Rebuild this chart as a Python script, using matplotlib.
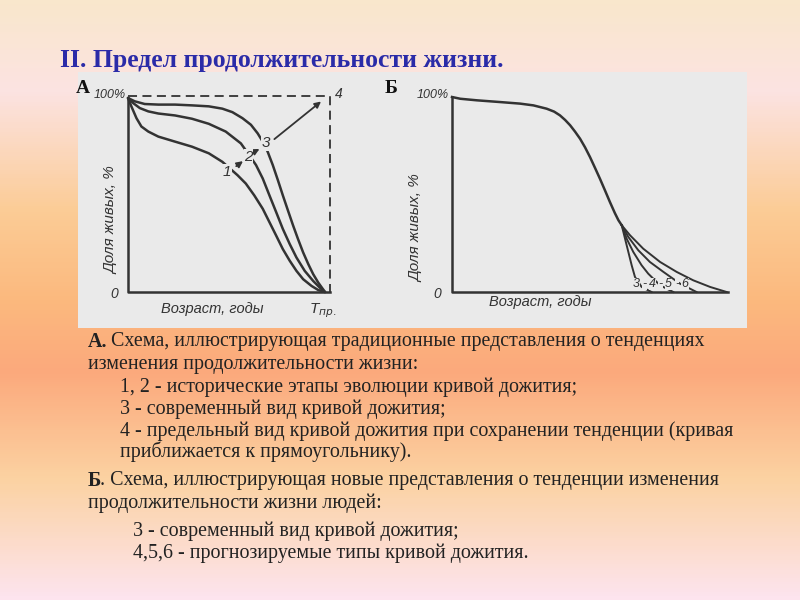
import numpy as np
import matplotlib.pyplot as plt
from matplotlib.colors import LinearSegmentedColormap
from matplotlib.patches import Rectangle

# panel A: curves 1, 2, 3 (x: share of T_pr, y: share alive)
a1_x = [0, 0.017, 0.043, 0.068, 0.103, 0.154, 0.239, 0.325, 0.410, 0.479, 0.556, 0.598, 0.641,
        0.684, 0.718, 0.752, 0.786, 0.821, 0.855, 0.889, 0.932, 0.966, 1.0]
a1_y = [1, 0.957, 0.896, 0.853, 0.827, 0.801, 0.775, 0.749, 0.715, 0.671, 0.602, 0.559, 0.498,
        0.429, 0.360, 0.291, 0.221, 0.161, 0.109, 0.066, 0.031, 0.010, 0]
a2_x = [0, 0.026, 0.060, 0.103, 0.154, 0.239, 0.325, 0.410, 0.496, 0.573, 0.615, 0.650, 0.684,
        0.718, 0.752, 0.786, 0.821, 0.855, 0.897, 0.940, 0.974, 1.0]
a2_y = [1, 0.974, 0.948, 0.931, 0.920, 0.910, 0.893, 0.867, 0.827, 0.766, 0.706, 0.654, 0.585,
        0.498, 0.412, 0.325, 0.247, 0.178, 0.109, 0.057, 0.022, 0]
a3_x = [0, 0.034, 0.085, 0.154, 0.239, 0.325, 0.410, 0.479, 0.530, 0.581, 0.624, 0.658, 0.684,
        0.709, 0.735, 0.761, 0.786, 0.812, 0.838, 0.863, 0.889, 0.915, 0.940, 0.966, 1.0]
a3_y = [1, 0.983, 0.969, 0.966, 0.966, 0.962, 0.957, 0.945, 0.927, 0.896, 0.862, 0.818, 0.775,
        0.723, 0.654, 0.576, 0.498, 0.420, 0.343, 0.273, 0.204, 0.144, 0.092, 0.048, 0]
a_labels = ['1', '2', '3']
a_label_x = [0.504, 0.612, 0.701]
a_label_y = [0.619, 0.697, 0.766]

# panel B: common part and tails 3..6
b_x = [0, 0.030, 0.090, 0.175, 0.247, 0.295, 0.343, 0.370, 0.391, 0.410, 0.428, 0.446, 0.464,
       0.482, 0.500, 0.518, 0.536, 0.554, 0.572, 0.590, 0.603, 0.615]
b_y = [1, 0.991, 0.983, 0.974, 0.966, 0.957, 0.940, 0.925, 0.906, 0.882, 0.855, 0.822, 0.786,
       0.742, 0.692, 0.637, 0.581, 0.522, 0.462, 0.405, 0.368, 0.342]
b3_x = [0.627, 0.639, 0.651, 0.663, 0.687, 0.723]
b3_y = [0.273, 0.205, 0.137, 0.077, 0.026, 0.0]
b4_x = [0.633, 0.657, 0.687, 0.711, 0.754, 0.802]
b4_y = [0.273, 0.205, 0.137, 0.094, 0.034, 0.0]
b5_x = [0.639, 0.675, 0.717, 0.766, 0.826, 0.886]
b5_y = [0.282, 0.214, 0.154, 0.103, 0.043, 0.0]
b6_x = [0.645, 0.693, 0.754, 0.814, 0.874, 0.935, 0.995]
b6_y = [0.291, 0.222, 0.154, 0.103, 0.060, 0.026, 0.0]
b_labels = ['3', '-', '4', '-', '5', '-', '6']
b_label_x = [0.667, 0.697, 0.726, 0.756, 0.785, 0.815, 0.844]

W, H = 800, 600
fig = plt.figure(figsize=(8, 6), dpi=100)

# gradient background
bg = fig.add_axes([0, 0, 1, 1])
cmap = LinearSegmentedColormap.from_list('bg', [
    (0.0, '#f9e7cc'), (0.15, '#fce3e2'), (0.35, '#fbcc96'), (0.5, '#fbb97e'),
    (0.62, '#fba97c'), (0.8, '#fbd2a2'), (1.0, '#fde4ee')])
bg.imshow(np.linspace(0, 1, 300)[:, None], aspect='auto', cmap=cmap, extent=[0, 1, 0, 1])
bg.set_xlim(0, 1)
bg.set_ylim(0, 1)
bg.axis('off')

def px(x, y):
    return x / W, 1 - y / H

# scanned panel
paper = '#eaeaea'
bg.add_patch(Rectangle(px(78, 328), (747 - 78) / W, (328 - 72) / H,
                       facecolor=paper, edgecolor='none', zorder=2))

ink = '#333333'
lw = 1.8
it = dict(family='Liberation Sans', style='italic', color=ink)
gap = dict(facecolor=paper, edgecolor='none', pad=0.3)

def make_axes(x0, x1, y0, y1, ox, ex, oy, ey):
    # ox/ex: pixel of x=0 / x=1 ; oy/ey: pixel of y=0 / y=1
    ax = fig.add_axes([x0 / W, 1 - y1 / H, (x1 - x0) / W, (y1 - y0) / H])
    ax.set_xlim((x0 - ox) / (ex - ox), (x1 - ox) / (ex - ox))
    ax.set_ylim((oy - y1) / (oy - ey), (oy - y0) / (oy - ey))
    ax.axis('off')
    ax.patch.set_alpha(0)
    return ax

# ---- panel A
axA = make_axes(78, 395, 72, 328, 128, 325, 292, 98)
axA.plot([0, 0, 1.026], [1.0, 0, 0], color=ink, lw=lw)
axA.plot([0, 1.026, 1.026], [1.009, 1.009, 0], color=ink, lw=1.3, ls=(0, (5, 3)))
for xs, ys in [(a1_x, a1_y), (a2_x, a2_y), (a3_x, a3_y)]:
    axA.plot(xs, ys, color=ink, lw=lw, solid_capstyle='round', solid_joinstyle='round')
for s, x, y in zip(a_labels, a_label_x, a_label_y):
    axA.text(x, y, s, ha='center', va='center', fontsize=11, bbox=gap, zorder=5, **it)
arrow = dict(arrowstyle='-|>', color=ink, lw=1.3, mutation_scale=9)
axA.annotate('', xy=(0.595, 0.683), xytext=(0.538, 0.640), arrowprops=arrow)
axA.annotate('', xy=(0.680, 0.744), xytext=(0.641, 0.723), arrowprops=arrow)
axA.annotate('', xy=(0.991, 0.991), xytext=(0.732, 0.779), arrowprops=arrow)
axA.text(1.07, 1.02, '4', ha='center', va='center', fontsize=10, **it)
axA.text(-0.01, 1.015, '100%', ha='right', va='center', fontsize=9, **it)
axA.text(-0.05, -0.01, '0', ha='right', va='center', fontsize=10, **it)
axA.text(-0.085, 0.37, 'Доля живых, %', rotation=90, ha='center', va='center', fontsize=11, **it)
axA.text(0.43, -0.09, 'Возраст, годы', ha='center', va='center', fontsize=10.5, **it)
axA.text(0.99, -0.095, 'T$_{пр.}$', ha='center', va='center', fontsize=11, **it)

# ---- panel B
axB = make_axes(395, 747, 72, 328, 452, 728, 292, 97)
axB.plot([0, 0, 1.0], [1.0, 0, 0], color=ink, lw=lw)
axB.plot(b_x, b_y, color=ink, lw=lw, solid_joinstyle='round')
for xs, ys in [(b3_x, b3_y), (b4_x, b4_y), (b5_x, b5_y), (b6_x, b6_y)]:
    axB.plot([b_x[-1]] + xs, [b_y[-1]] + ys, color=ink, lw=1.4, solid_joinstyle='round')
for s, x in zip(b_labels, b_label_x):
    axB.text(x, 0.04, s, ha='center', va='center', fontsize=9,
             bbox=dict(facecolor=paper, edgecolor='none', pad=0.05), zorder=5, **it)
axB.text(-0.01, 1.01, '100%', ha='right', va='center', fontsize=9, **it)
axB.text(-0.04, -0.01, '0', ha='right', va='center', fontsize=10, **it)
axB.text(-0.13, 0.33, 'Доля живых, %', rotation=90, ha='center', va='center', fontsize=11, **it)
axB.text(0.32, -0.05, 'Возраст, годы', ha='center', va='center', fontsize=10.5, **it)

# ---- slide texts
def ftext(x, y, s, **kw):
    fig.text(x / W, 1 - y / H, s, va='center', **kw)

serif = 'Liberation Serif'
ftext(60, 60, 'II. Предел продолжительности жизни.', family=serif, fontsize=18.5,
      weight='bold', color='#2b2ba8')
ftext(76, 88, 'А', family=serif, fontsize=14, weight='bold', color='#111')
ftext(385, 88, 'Б', family=serif, fontsize=14, weight='bold', color='#111')

tc = '#222222'
fs = 14.4
ftext(88, 342, 'А.', family=serif, fontsize=fs, weight='bold', color=tc)
ftext(111, 342, 'Схема, иллюстрирующая традиционные представления о тенденциях',
      family=serif, fontsize=fs, color=tc)
ftext(88, 364, 'изменения продолжительности жизни:', family=serif, fontsize=fs, color=tc)
ftext(120, 387, '1, 2 - исторические этапы эволюции кривой дожития;', family=serif, fontsize=fs, color=tc)
ftext(120, 409, '3 - современный вид кривой дожития;', family=serif, fontsize=fs, color=tc)
ftext(120, 431, '4 - предельный вид кривой дожития при сохранении тенденции (кривая',
      family=serif, fontsize=fs, color=tc)
ftext(120, 452, 'приближается к прямоугольнику).', family=serif, fontsize=fs, color=tc)

ftext(88, 481, 'Б', family=serif, fontsize=fs, weight='bold', color=tc)
ftext(100, 481, '. Схема, иллюстрирующая новые представления о тенденции изменения',
      family=serif, fontsize=fs, color=tc)
ftext(88, 503, 'продолжительности жизни людей:', family=serif, fontsize=fs, color=tc)
ftext(133, 531, '3 - современный вид кривой дожития;', family=serif, fontsize=fs, color=tc)
ftext(133, 553, '4,5,6 - прогнозируемые типы кривой дожития.', family=serif, fontsize=fs, color=tc)

fig.savefig('out.png', dpi=100)
